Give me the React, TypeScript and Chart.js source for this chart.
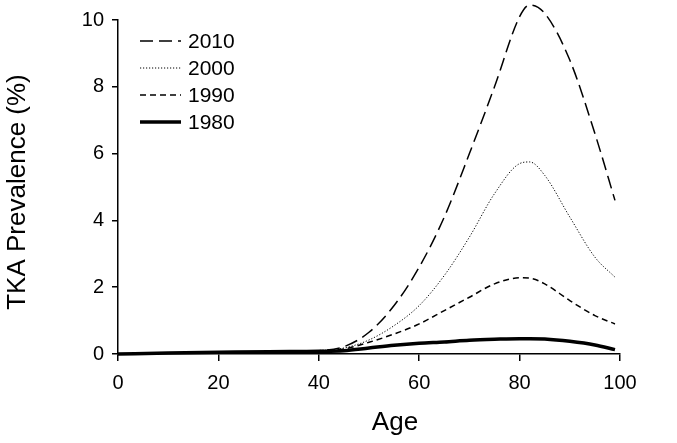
import React, { useEffect, useRef } from "react";
import { Chart, registerables } from "chart.js";

Chart.register(...registerables);

const ages = [0, 10, 20, 30, 40, 45, 50, 55, 60, 65, 70, 75, 80, 82, 85, 90, 95, 99];
const y2010 = [0.0, 0.03, 0.05, 0.07, 0.1, 0.22, 0.65, 1.45, 2.6, 4.1, 6.0, 8.0, 10.1, 10.45, 10.2, 8.8, 6.6, 4.6];
const y2000 = [0.0, 0.03, 0.05, 0.07, 0.1, 0.18, 0.42, 0.85, 1.45, 2.35, 3.5, 4.8, 5.7, 5.75, 5.35, 4.1, 2.9, 2.3];
const y1990 = [0.0, 0.03, 0.05, 0.07, 0.1, 0.15, 0.35, 0.6, 0.9, 1.3, 1.7, 2.1, 2.28, 2.27, 2.1, 1.6, 1.15, 0.9];
const y1980 = [0.0, 0.03, 0.05, 0.07, 0.08, 0.1, 0.18, 0.26, 0.32, 0.36, 0.41, 0.44, 0.46, 0.46, 0.45, 0.38, 0.27, 0.13];
const seriesLabels = ["2010", "2000", "1990", "1980"];
const xTicks = [0, 20, 40, 60, 80, 100];
const yTicks = [0, 2, 4, 6, 8, 10];
const xTitle = "Age";
const yTitle = "TKA Prevalence (%)";

const FONT = "'Liberation Sans', Arial, sans-serif";

export default function App() {
  const ref = useRef<HTMLCanvasElement>(null);
  useEffect(() => {
    document.body.style.margin = "0";
    const toPts = (arr: number[]) => arr.map((v, i) => ({ x: ages[i], y: v }));
    const styles = [
      { width: 1.5, dash: [13, 6] },
      { width: 1, dash: [1.2, 1.8] },
      { width: 1.5, dash: [6, 4] },
      { width: 3.5, dash: [] as number[] },
    ];
    const values = [y2010, y2000, y1990, y1980];
    const overlayPlugin = {
      id: "overlay",
      afterDraw(chart: any) {
        const ctx = chart.ctx;
        ctx.save();
        seriesLabels.forEach((lab, i) => {
          const y = 41 + i * 27;
          ctx.beginPath();
          ctx.strokeStyle = "#000";
          ctx.lineWidth = styles[i].width;
          ctx.setLineDash(styles[i].dash);
          ctx.moveTo(140, y);
          ctx.lineTo(181, y);
          ctx.stroke();
          ctx.setLineDash([]);
          ctx.fillStyle = "#000";
          ctx.font = `21px ${FONT}`;
          ctx.textBaseline = "middle";
          ctx.textAlign = "left";
          ctx.fillText(lab, 188, y + 1);
        });
        ctx.font = `26px ${FONT}`;
        ctx.textAlign = "center";
        ctx.textBaseline = "middle";
        ctx.fillText(xTitle, 395, 423);
        ctx.translate(18, 192);
        ctx.rotate(-Math.PI / 2);
        ctx.fillText(yTitle, 0, 0);
        ctx.restore();
      },
    };
    const chart = new Chart(ref.current!, {
      type: "line",
      data: {
        datasets: seriesLabels.map((lab, i) => ({
          label: lab,
          data: toPts(values[i]),
          borderColor: "#000",
          borderWidth: styles[i].width,
          borderDash: styles[i].dash,
          pointRadius: 0,
          cubicInterpolationMode: "monotone" as const,
          fill: false,
          clip: false as any,
        })),
      },
      options: {
        responsive: false,
        animation: false,
        layout: { padding: { left: 0, top: 18, right: 57, bottom: 0 } },
        plugins: { legend: { display: false }, tooltip: { enabled: false } },
        scales: {
          x: {
            type: "linear",
            min: 0,
            max: 100,
            afterBuildTicks: (s: any) => {
              s.ticks = xTicks.map((v) => ({ value: v }));
            },
            afterFit: (s: any) => {
              s.height = 89;
            },
            ticks: { color: "#000", font: { family: FONT, size: 20 }, padding: 10, maxRotation: 0 },
            grid: { drawOnChartArea: false, drawTicks: true, tickLength: 7, color: "#000", lineWidth: 1.5 },
            border: { color: "#000", width: 1.5 },
          },
          y: {
            type: "linear",
            min: 0,
            max: 10,
            afterBuildTicks: (s: any) => {
              s.ticks = yTicks.map((v) => ({ value: v }));
            },
            afterFit: (s: any) => {
              s.width = 118;
            },
            ticks: { color: "#000", font: { family: FONT, size: 20 }, padding: 8 },
            grid: { drawOnChartArea: false, drawTicks: true, tickLength: 6, color: "#000", lineWidth: 1.5 },
            border: { color: "#000", width: 1.5 },
          },
        },
      },
      plugins: [overlayPlugin],
    });
    return () => chart.destroy();
  }, []);
  return (
    <div style={{ width: 677, height: 443, background: "#fff" }}>
      <canvas ref={ref} width={677} height={443} />
    </div>
  );
}
